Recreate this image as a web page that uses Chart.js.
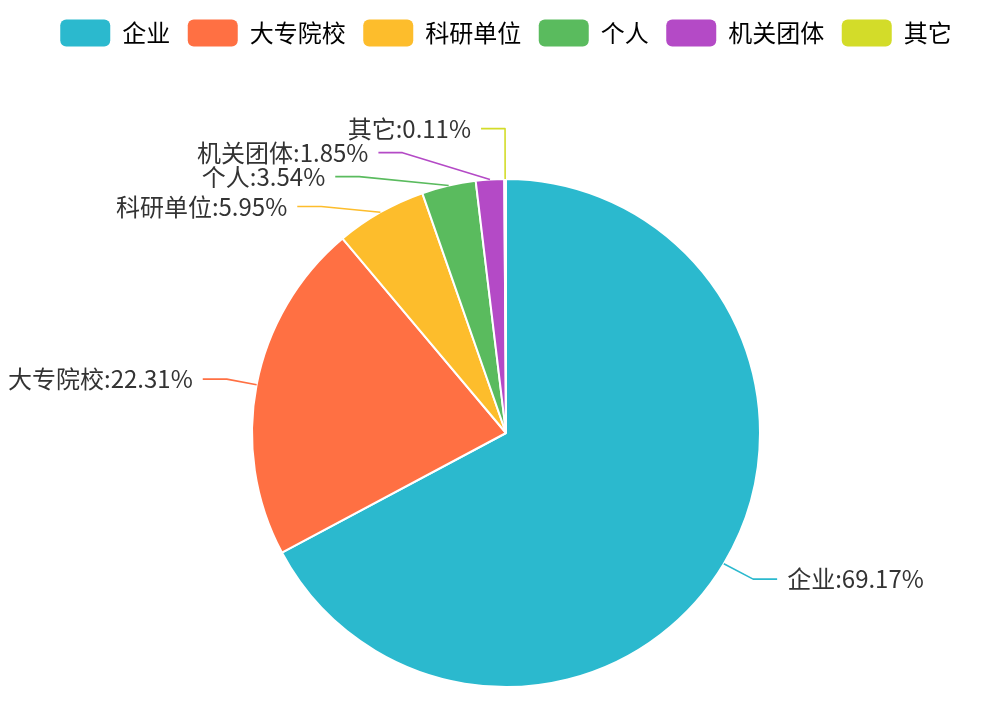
<!DOCTYPE html>
<html>
<head>
<meta charset="utf-8">
<script src="https://cdn.jsdelivr.net/npm/chart.js@4.4.1/dist/chart.umd.min.js"></script>
<style>
  html, body { margin: 0; padding: 0; background: #ffffff; }
  #wrap { width: 990px; height: 720px; position: relative; }
</style>
</head>
<body>
<div id="wrap"><canvas id="c"></canvas></div>
<script>
// ---- data ----
const categories = ['企业', '大专院校', '科研单位', '个人', '机关团体', '其它'];
const shares = [69.17, 22.31, 5.95, 3.54, 1.85, 0.11];
// ---- palette ----
const palette = ['#2bb9ce', '#ff7043', '#fdbd2c', '#5abb5e', '#b44ac6', '#d3dc29'];

const FONT = '"Noto Sans CJK SC", "Noto Sans", sans-serif';

// echarts-like outside labels with leader lines
const pieLabels = {
  id: 'pieLabels',
  afterInit(chart) {
    const lg = chart.legend;
    if (lg) {
      const fit = lg.fit;
      lg.fit = function () { fit.call(this); this.height = 176; };
    }
  },
  afterDatasetsDraw(chart) {
    const ctx = chart.ctx;
    const meta = chart.getDatasetMeta(0);
    const L1 = 30, L2 = 24, H = 24, GAP = 10;
    let cx = 0, cy = 0, r = 0;
    const items = meta.data.map((arc, i) => {
      const p = arc.getProps(['x', 'y', 'startAngle', 'endAngle', 'outerRadius'], true);
      cx = p.x; cy = p.y; r = p.outerRadius;
      const mid = (p.startAngle + p.endAngle) / 2;
      const c = Math.cos(mid), s = Math.sin(mid);
      const dir = c >= 0 ? 1 : -1;
      return {
        i, dir,
        x0: cx + r * c, y0: cy + r * s,
        x: cx + (r + L1) * c + dir * L2,
        y: cy + (r + L1) * s
      };
    });

    function adjustSide(list, dir) {
      if (!list.length) return;
      list.sort((a, b) => a.y - b.y);
      function shiftUp(end, delta) {
        for (let j = end; j >= 0; j--) {
          list[j].y -= delta;
          if (j > 0 && list[j].y > list[j - 1].y + H) break;
        }
      }
      function shiftDown(start, end, delta) {
        for (let j = start; j < end; j++) {
          list[j].y += delta;
          if (j > start && j + 1 < end && list[j + 1].y > list[j].y + H) {
            shiftUp(j, delta / 2);
            return;
          }
        }
        shiftUp(end - 1, delta / 2);
      }
      let lastY = 0;
      for (let i = 0; i < list.length; i++) {
        const delta = list[i].y - lastY;
        if (delta < 0) shiftDown(i, list.length, -delta);
        lastY = list[i].y + H;
      }
      function changeX(arr, isDown) {
        let last = isDown ? Number.MAX_VALUE : 0;
        for (const it of arr) {
          const dy = Math.abs(it.y - cy);
          let dx = dy < r + L1 ? Math.sqrt((r + L1 + L2) * (r + L1 + L2) - dy * dy) : Math.abs(it.x - cx);
          if (isDown && dx >= last) dx = last - 10;
          if (!isDown && dx <= last) dx = last + 10;
          it.x = cx + dx * dir;
          last = dx;
        }
      }
      changeX(list.filter(it => it.y < cy), false);
      changeX(list.filter(it => it.y >= cy), true);
    }
    adjustSide(items.filter(it => it.dir < 0), -1);
    adjustSide(items.filter(it => it.dir > 0), 1);

    ctx.save();
    ctx.lineWidth = 1.6;
    ctx.lineJoin = 'round';
    ctx.font = '24px ' + FONT;
    ctx.textBaseline = 'middle';
    items.forEach(it => {
      const col = palette[it.i];
      const bendX = it.x - it.dir * L2;
      ctx.strokeStyle = col;
      ctx.beginPath();
      ctx.moveTo(it.x0, it.y0);
      ctx.lineTo(bendX, it.y);
      ctx.lineTo(it.x, it.y);
      ctx.stroke();
      ctx.fillStyle = '#333333';
      ctx.textAlign = it.dir > 0 ? 'left' : 'right';
      ctx.fillText(categories[it.i] + ':' + shares[it.i].toFixed(2) + '%', it.x + it.dir * GAP, it.y);
    });
    ctx.restore();
  }
};

new Chart(document.getElementById('c'), {
  type: 'pie',
  data: {
    labels: categories,
    datasets: [{
      data: shares,
      backgroundColor: palette,
      borderColor: '#ffffff',
      borderWidth: 2,
      hoverOffset: 0
    }]
  },
  options: {
    responsive: true,
    maintainAspectRatio: false,
    animation: false,
    devicePixelRatio: 1,
    layout: { padding: { top: 2, left: 22, right: 0, bottom: 32 } },
    plugins: {
      tooltip: { enabled: false },
      legend: {
        position: 'top',
        labels: {
          boxWidth: 50,
          boxHeight: 27,
          padding: 17.5,
          useBorderRadius: true,
          borderRadius: 6,
          color: '#333333',
          font: { size: 24, family: FONT },
          generateLabels(chart) {
            return categories.map((name, i) => ({
              text: name,
              fillStyle: palette[i],
              strokeStyle: palette[i],
              lineWidth: 0,
              hidden: false,
              index: i,
              borderRadius: 6
            }));
          }
        }
      }
    }
  },
  plugins: [pieLabels]
});
</script>
</body>
</html>
